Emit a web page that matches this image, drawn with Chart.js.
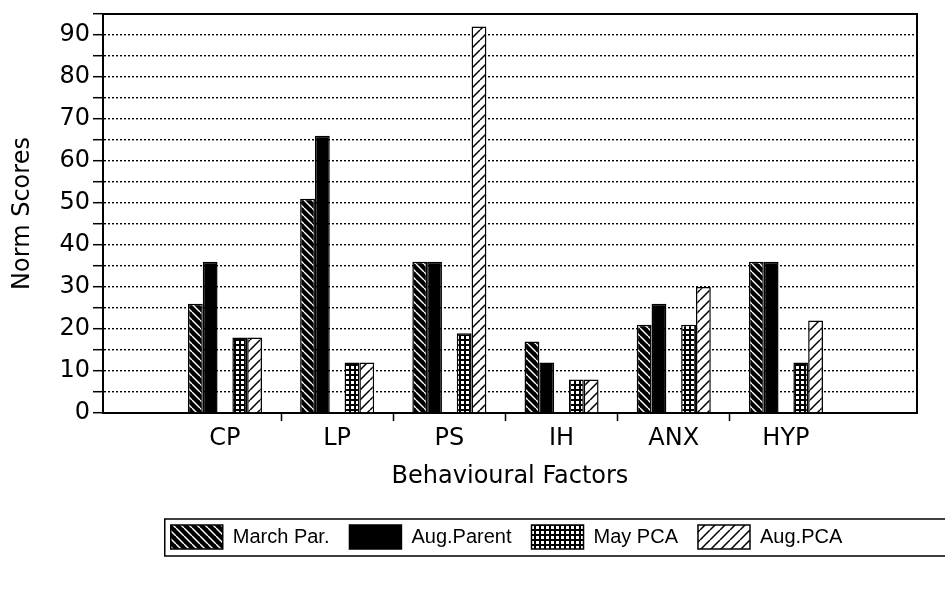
<!DOCTYPE html>
<html>
<head>
<meta charset="utf-8">
<script src="https://cdn.jsdelivr.net/npm/chart.js@4.4.1/dist/chart.umd.min.js"></script>
<style>
  html, body { margin: 0; padding: 0; background: #fff; }
  #wrap { width: 945px; height: 594px; }
</style>
</head>
<body>
<div id="wrap"><canvas id="chart"></canvas></div>
<script>
// data
const categories = ['CP', 'LP', 'PS', 'IH', 'ANX', 'HYP'];
const marchPar  = [26, 51, 36, 17, 21, 36];
const augParent = [36, 66, 36, 12, 26, 36];
const mayPCA    = [18, 12, 19, 8, 21, 12];
const augPCA    = [18, 12, 92, 8, 30, 22];
const seriesNames = ['March Par.', 'Aug.Parent', 'May PCA', 'Aug.PCA'];
const yMax = 95;
const yStep = 5;

const AXIS_FONT = 'DejaVu Sans, Verdana, sans-serif';
const LEGEND_FONT = 'Liberation Sans, Arial, Helvetica, sans-serif';

// hatch fills like the print
function hatch(bg, fg, dir, size, lw) {
    const c = document.createElement('canvas');
    c.width = size; c.height = size;
    const g = c.getContext('2d');
    g.fillStyle = bg;
    g.fillRect(0, 0, size, size);
    g.strokeStyle = fg;
    g.lineWidth = lw;
    g.beginPath();
    for (const o of [-size, 0, size]) {
        if (dir === '\\') { g.moveTo(o, 0); g.lineTo(o + size, size); }
        else { g.moveTo(o, size); g.lineTo(o + size, 0); }
    }
    g.stroke();
    return g.createPattern(c, 'repeat');
}
function gridFill() {
    const c = document.createElement('canvas');
    c.width = 5; c.height = 5;
    const g = c.getContext('2d');
    g.fillStyle = '#000';
    g.fillRect(0, 0, 5, 5);
    g.fillStyle = '#fff';
    g.fillRect(1, 1, 3, 3);
    return g.createPattern(c, 'repeat');
}

const toPoints = arr => arr.map((v, i) => ({ x: i, y: v }));
const legendShift = 48;

const framePlugin = {
    id: 'frame',
    afterLayout(chart) {
        chart.legend.left += legendShift;
        chart.legend.right += legendShift;
    },
    afterDraw(chart) {
        const { ctx, chartArea: a, legend: lg } = chart;
        ctx.save();
        ctx.strokeStyle = '#000';
        ctx.lineWidth = 2;
        ctx.beginPath();
        ctx.moveTo(a.left, a.top);
        ctx.lineTo(a.right, a.top);
        ctx.lineTo(a.right, a.bottom);
        ctx.stroke();
        // box round the legend
        const p = lg.options.labels.padding;
        const x0 = (lg.left + p + lg.right - lg.lineWidths[0]) / 2 - 6;
        ctx.lineWidth = 1.5;
        ctx.strokeRect(x0, lg.top + p - 6, chart.width - x0 + 5, lg.options.labels.boxHeight + 13);
        ctx.restore();
    }
};

new Chart(document.getElementById('chart'), {
    type: 'bar',
    data: {
        datasets: [
            { label: seriesNames[0], data: toPoints(marchPar), backgroundColor: hatch('#000', '#fff', '\\', 8, 1.4), borderColor: '#000', borderWidth: 1.5 },
            { label: seriesNames[1], data: toPoints(augParent), backgroundColor: '#000', borderColor: '#000', borderWidth: 1.5 },
            // empty slot = the gap between the parent pair and the PCA pair
            { label: '', data: toPoints(categories.map(() => null)) },
            { label: seriesNames[2], data: toPoints(mayPCA), backgroundColor: gridFill(), borderColor: '#000', borderWidth: 1.5 },
            { label: seriesNames[3], data: toPoints(augPCA), backgroundColor: hatch('#fff', '#000', '/', 10, 1.5), borderColor: '#000', borderWidth: 1.5 }
        ]
    },
    options: {
        responsive: true,
        maintainAspectRatio: false,
        animation: false,
        categoryPercentage: 0.66,
        barPercentage: 1,
        layout: { padding: { top: 14, right: 28, bottom: 35, left: 0 } },
        plugins: {
            tooltip: { enabled: false },
            legend: {
                position: 'bottom',
                labels: {
                    filter: item => item.text !== '',
                    boxWidth: 52,
                    boxHeight: 24,
                    padding: 20,
                    color: '#000',
                    font: { family: LEGEND_FONT, size: 20 }
                }
            }
        },
        scales: {
            x: {
                type: 'linear',
                offset: false,
                min: -1.087,
                max: categories.length - 1 + 1.168,
                afterFit: s => { s.height = 92; },
                ticks: {
                    stepSize: 1,
                    includeBounds: false,
                    autoSkip: false,
                    maxRotation: 0,
                    padding: 3,
                    color: '#000',
                    font: { family: AXIS_FONT, size: 24 },
                    callback: v => categories[v] ?? ''
                },
                grid: {
                    offset: true,
                    drawOnChartArea: false,
                    tickLength: 8,
                    tickWidth: 1.5,
                    tickColor: ctx => (ctx.index >= 2 && ctx.index <= categories.length) ? '#000' : 'rgba(0,0,0,0)'
                },
                border: { color: '#000', width: 2 },
                title: {
                    display: true,
                    text: 'Behavioural Factors',
                    color: '#000',
                    font: { family: AXIS_FONT, size: 24 },
                    padding: { top: 4, bottom: 14 }
                }
            },
            y: {
                min: 0,
                max: yMax,
                afterFit: s => { s.width = 103; s.paddingTop = 0; },
                ticks: {
                    stepSize: yStep,
                    autoSkip: false,
                    padding: 3,
                    color: '#000',
                    font: { family: AXIS_FONT, size: 24 },
                    callback: v => (v % 10 === 0 ? v : '')
                },
                grid: {
                    color: ctx => (ctx.tick && (ctx.tick.value === 0 || ctx.tick.value === yMax)) ? 'rgba(0,0,0,0)' : '#000',
                    lineWidth: 1.4,
                    tickColor: '#000',
                    tickLength: 10,
                    tickWidth: 1.5,
                    tickBorderDash: []
                },
                border: { color: '#000', width: 2, dash: [2, 2] },
                title: {
                    display: true,
                    text: 'Norm Scores',
                    color: '#000',
                    font: { family: AXIS_FONT, size: 24 },
                    padding: { top: 8, bottom: 0 }
                }
            }
        }
    },
    plugins: [framePlugin]
});
</script>
</body>
</html>
